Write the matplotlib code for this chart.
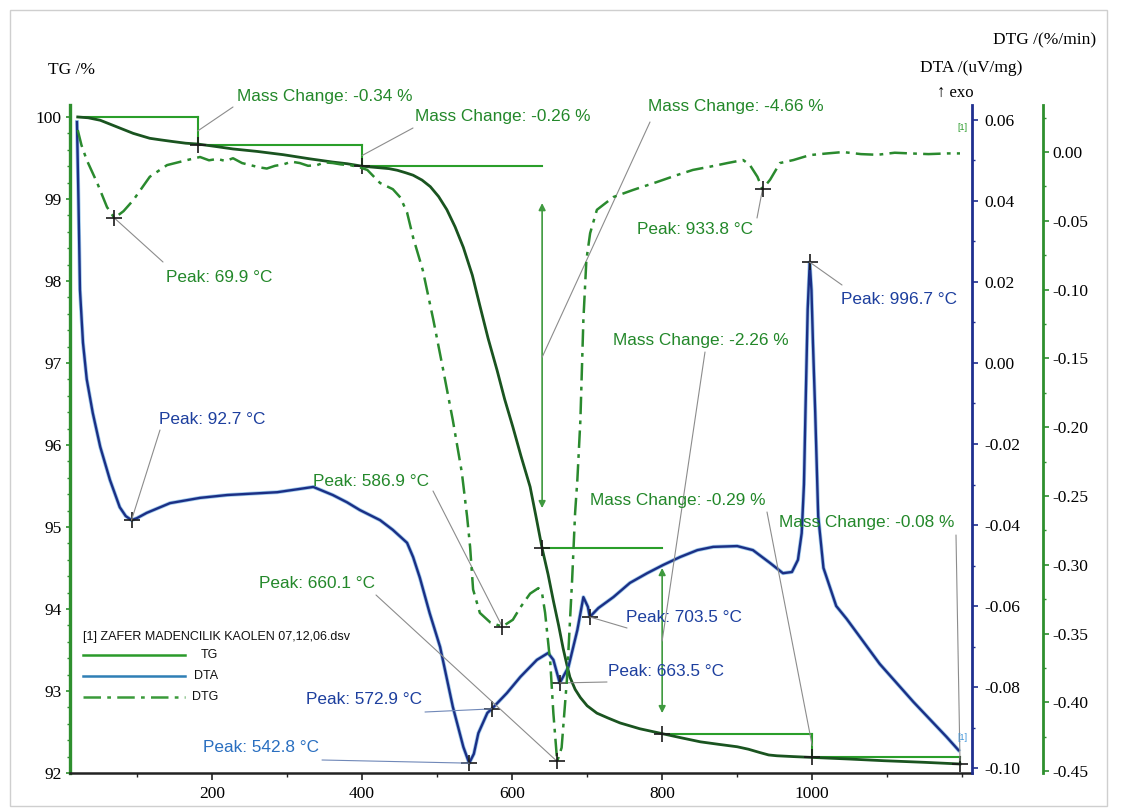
import numpy as np
import matplotlib
matplotlib.use("Agg")
import matplotlib.pyplot as plt
import matplotlib.font_manager as fm
from matplotlib.lines import Line2D
from matplotlib.patches import Rectangle
from matplotlib.ticker import FixedLocator, MultipleLocator, FuncFormatter

# ---------------- data ----------------
tg_T = [21, 35, 51, 62, 73, 84, 95, 106, 117, 132, 148, 165, 181, 205, 228, 260, 295, 330, 361,
        380, 400, 412, 424, 436, 447, 458, 468, 480, 491, 502, 513, 524, 535, 547, 557, 568,
        580, 590, 601, 612, 624, 632, 640, 648, 655, 662, 668, 673, 677, 684, 691, 700, 713,
        728, 744, 770, 800, 825, 851, 875, 900, 915, 930, 942, 953, 975, 1000, 1050, 1095,
        1150, 1197]
tg_v = [100.00, 99.99, 99.96, 99.92, 99.88, 99.84, 99.80, 99.77, 99.74, 99.72, 99.70, 99.68,
        99.67, 99.64, 99.61, 99.58, 99.54, 99.49, 99.45, 99.43, 99.40, 99.39, 99.38, 99.37,
        99.35, 99.32, 99.29, 99.23, 99.15, 99.03, 98.87, 98.66, 98.41, 98.07, 97.70, 97.30,
        96.91, 96.56, 96.22, 95.86, 95.49, 95.12, 94.74, 94.42, 94.10, 93.80, 93.52, 93.32,
        93.17, 93.02, 92.92, 92.82, 92.73, 92.67, 92.61, 92.54, 92.48, 92.43, 92.38, 92.35,
        92.32, 92.29, 92.25, 92.22, 92.21, 92.20, 92.19, 92.17, 92.15, 92.13, 92.11]

dta_T = [20, 22, 24, 28, 33, 41, 51, 64, 77, 85, 92.7, 100, 113, 144, 184, 220, 287, 335, 361,
         380, 397, 424, 441, 460, 468, 477, 490, 504, 521, 535, 542.8, 549, 555, 567, 572.9,
         593, 611, 633, 648, 655, 663.5, 675, 687, 695, 701, 703.5, 715, 735, 757, 780, 801,
         824, 847, 868, 900, 921, 944, 961, 973, 981, 986, 989, 991, 994, 996.7, 999, 1001,
         1004, 1008, 1015, 1032, 1046, 1090, 1135, 1179, 1195]
dta_v = [0.0595, 0.040, 0.018, 0.005, -0.004, -0.0123, -0.0207, -0.0289, -0.0356, -0.0378,
         -0.0388, -0.0383, -0.0370, -0.0346, -0.0333, -0.0326, -0.0319, -0.0306, -0.0326,
         -0.0344, -0.0363, -0.0388, -0.0412, -0.0444, -0.0479, -0.0530, -0.0617, -0.0701,
         -0.0849, -0.0948, -0.0988, -0.0965, -0.0914, -0.0864, -0.0854, -0.0815, -0.0775,
         -0.0733, -0.0716, -0.0733, -0.0790, -0.0751, -0.0659, -0.0578, -0.0602, -0.0627,
         -0.0605, -0.0578, -0.0543, -0.0519, -0.0499, -0.0479, -0.0462, -0.0454, -0.0452,
         -0.0462, -0.0494, -0.0519, -0.0516, -0.0486, -0.0420, -0.0300, -0.0121, 0.0133,
         0.0249, 0.0180, 0.0050, -0.0121, -0.0378, -0.0506, -0.0600, -0.0632, -0.0743,
         -0.0837, -0.0923, -0.0956]

dtg_T = [21, 26, 33, 47, 60, 69.9, 82, 95, 117, 140, 167, 184, 196, 207, 218, 228, 240, 251,
         262, 273, 284, 295, 306, 317, 328, 340, 350, 361, 372, 384, 396, 407, 424, 441, 451,
         460, 468, 481, 495, 508, 521, 533, 540, 544, 548, 557, 571, 586.9, 601, 611, 624, 635,
         640, 644, 651, 655, 660.1, 666, 673, 680, 684, 687, 691, 695, 699, 704, 713, 735, 761,
         793, 820, 841, 865, 887, 908, 917, 927, 933.8, 944, 957, 975, 997, 1020, 1041, 1065,
         1087, 1110, 1131, 1155, 1180, 1197]
dtg_v = [0.016, 0.005, -0.0058, -0.0225, -0.040, -0.048, -0.043, -0.035, -0.018, -0.0095,
         -0.0058, -0.0036, -0.0060, -0.0050, -0.0065, -0.0045, -0.0080, -0.0095, -0.0110,
         -0.0120, -0.0100, -0.0090, -0.0070, -0.0080, -0.0100, -0.0095, -0.0075, -0.0080,
         -0.0090, -0.0095, -0.0110, -0.013, -0.0225, -0.027, -0.033, -0.044, -0.062, -0.086,
         -0.122, -0.158, -0.195, -0.233, -0.265, -0.287, -0.318, -0.335, -0.342, -0.345,
         -0.340, -0.331, -0.321, -0.317, -0.321, -0.335, -0.372, -0.408, -0.443, -0.433,
         -0.384, -0.311, -0.262, -0.238, -0.195, -0.122, -0.0785, -0.059, -0.042, -0.0327,
         -0.0276, -0.0218, -0.0167, -0.013, -0.0105, -0.008, -0.0058, -0.0095, -0.018, -0.027,
         -0.020, -0.008, -0.0058, -0.0022, -0.0010, 0.000, -0.0015, -0.002, -0.0005, -0.001,
         -0.0015, -0.001, -0.001]

# mass-change steps: (start T, end T, start level, end level, label)
mc_T0 = [21, 181, 400, 640, 800, 1000]
mc_T1 = [181, 400, 640, 800, 1000, 1197]
mc_L0 = [100.00, 99.66, 99.40, 94.74, 92.48, 92.19]
mc_L1 = [99.66, 99.40, 94.74, 92.48, 92.19, 92.11]
mc_labels = ["Mass Change: -0.34 %", "Mass Change: -0.26 %", "Mass Change: -4.66 %",
             "Mass Change: -2.26 %", "Mass Change: -0.29 %", "Mass Change: -0.08 %"]
# double arrows drawn for the large steps: (T, top, bottom)
arr_T = [640, 800]
arr_top = [98.95, 94.50]
arr_bot = [95.23, 92.73]

dtg_peak_T = [69.9, 586.9, 660.1, 933.8]
dtg_peak_v = [-0.048, -0.345, -0.443, -0.027]
dta_peak_T = [92.7, 542.8, 572.9, 663.5, 703.5, 996.7]
dta_peak_v = [-0.0388, -0.0988, -0.0854, -0.0790, -0.0627, 0.0249]

tg_ticks = [92, 93, 94, 95, 96, 97, 98, 99, 100]
dta_ticks = [-0.10, -0.08, -0.06, -0.04, -0.02, 0.00, 0.02, 0.04, 0.06]
dtg_ticks = [-0.45, -0.40, -0.35, -0.30, -0.25, -0.20, -0.15, -0.10, -0.05, 0.00]
x_ticks = [200, 400, 600, 800, 1000]

# ---------------- styling ----------------
W, H = 1122, 809
def fx(px): return px / W
def fy(py): return 1 - py / H

names = {f.name for f in fm.fontManager.ttflist}
SANS = "Liberation Sans Narrow" if "Liberation Sans Narrow" in names else "Liberation Sans"
ANN_SIZE = 14.5 if SANS == "Liberation Sans Narrow" else 12.4
LEG_SIZE = 10.5 if SANS == "Liberation Sans Narrow" else 9.0
SERIF = ["Liberation Serif", "DejaVu Serif"]

C_TG = "#1a5420"
C_MC = "#2a9e2a"
C_DTG = "#2a8a2e"
C_DTA = "#1b2f85"
C_DTA_L = "#3d93d8"
C_GTXT = "#23882a"
C_BTXT = "#1d3f9e"
C_LEAD = "#8c8c8c"

fig = plt.figure(figsize=(W / 100, H / 100), dpi=100)
fig.add_artist(Rectangle((fx(10), fy(806)), fx(1107) - fx(10), fy(10) - fy(806),
                         transform=fig.transFigure, fill=False, ec="#cfcfcf", lw=1.0))

ax = fig.add_axes([fx(70), fy(773), fx(972) - fx(70), fy(105) - fy(773)])
ax2 = ax.twinx()
ax3 = ax.twinx()
for a in (ax2, ax3):
    a.patch.set_visible(False)

ax.set_xlim(10.7, 1213)
ax.set_ylim(92.0, 100.146)
ax2.set_ylim(-0.10123, 0.0637)
ax3.set_ylim(-0.4514, 0.0342)

for a in (ax, ax2, ax3):
    a.spines["top"].set_visible(False)
ax.spines["right"].set_visible(False)
ax2.spines["left"].set_visible(False)
ax3.spines["left"].set_visible(False)
ax2.spines["bottom"].set_visible(False)
ax3.spines["bottom"].set_visible(False)
ax.spines["left"].set_color("#2e8f2e")
ax.spines["left"].set_linewidth(2.4)
ax.spines["bottom"].set_color("#222222")
ax.spines["bottom"].set_linewidth(1.8)
ax2.spines["right"].set_color("#1f2f8f")
ax2.spines["right"].set_linewidth(2.0)
ax3.spines["right"].set_position(("outward", 51))
ax3.spines["right"].set_color("#2e8f2e")
ax3.spines["right"].set_linewidth(2.0)

fmt2 = FuncFormatter(lambda v, p: ("%.2f" % v).replace("\u2212", "-") if abs(v) > 1e-9 else "0.00")

ax.xaxis.set_major_locator(FixedLocator(x_ticks))
ax.xaxis.set_minor_locator(MultipleLocator(100))
ax.yaxis.set_major_locator(FixedLocator(tg_ticks))
ax.yaxis.set_minor_locator(MultipleLocator(0.2))
ax.yaxis.set_major_formatter(FuncFormatter(lambda v, p: "%d" % round(v)))
ax2.yaxis.set_major_locator(FixedLocator(dta_ticks))
ax2.yaxis.set_minor_locator(MultipleLocator(0.01))
ax2.yaxis.set_major_formatter(fmt2)
ax3.yaxis.set_major_locator(FixedLocator(dtg_ticks))
ax3.yaxis.set_minor_locator(MultipleLocator(0.025))
ax3.yaxis.set_major_formatter(fmt2)

ax.tick_params(axis="x", which="major", direction="out", length=5, width=1.2, color="#222222",
               pad=4, labelsize=12.5)
ax.tick_params(axis="x", which="minor", direction="out", length=3, width=1.0, color="#222222")
ax.tick_params(axis="y", which="major", direction="out", length=3, width=1.2, color="#2e8f2e",
               pad=3, labelsize=12.5)
ax.tick_params(axis="y", which="minor", direction="out", length=2, width=1.0, color="#2e8f2e")
ax2.tick_params(axis="y", which="major", direction="out", length=4, width=1.2, color="#1f2f8f",
                pad=5, labelsize=12.5)
ax2.tick_params(axis="y", which="minor", direction="out", length=2.5, width=1.0, color="#1f2f8f")
ax3.tick_params(axis="y", which="major", direction="out", length=4, width=1.2, color="#2e8f2e",
                pad=3, labelsize=12.5)
ax3.tick_params(axis="y", which="minor", direction="out", length=2.5, width=1.0, color="#2e8f2e")
for a in (ax, ax2, ax3):
    for lab in a.get_xticklabels() + a.get_yticklabels():
        lab.set_family(SERIF)

# ---------------- curves ----------------
ax.plot(tg_T, tg_v, color=C_TG, lw=2.0, zorder=5, solid_joinstyle="round")
ax2.plot(dta_T, dta_v, color=C_DTA_L, lw=2.8, alpha=0.5, zorder=4, solid_joinstyle="round")
ax2.plot(dta_T, dta_v, color=C_DTA, lw=1.7, zorder=5, solid_joinstyle="round")
ax3.plot(dtg_T, dtg_v, color=C_DTG, lw=1.8, linestyle=(0, (7, 2.5, 1.5, 2.5)), zorder=5)

# mass-change steps
for t0, t1, l0, l1 in zip(mc_T0, mc_T1, mc_L0, mc_L1):
    ax.plot([t0, t1], [l0, l0], color=C_MC, lw=1.5, zorder=3)
for t1, l0, l1 in zip(mc_T1, mc_L0, mc_L1):
    if t1 in arr_T:
        continue
    ax.plot([t1, t1], [l0, l1], color=C_MC, lw=1.5, zorder=3)
for t, a0, a1 in zip(arr_T, arr_top, arr_bot):
    ax.annotate("", xy=(t, a0), xytext=(t, a1),
                arrowprops=dict(arrowstyle="<|-|>", color="#3f9a3f", lw=1.2,
                                mutation_scale=10, shrinkA=0, shrinkB=0), zorder=3)
ax.plot(mc_T1, mc_L1, linestyle="none", marker="+", ms=11, mew=1.2, color="#1a1a1a", zorder=6)
ax3.plot(dtg_peak_T, dtg_peak_v, linestyle="none", marker="+", ms=11, mew=1.2, color="#1a1a1a", zorder=6)
ax2.plot(dta_peak_T, dta_peak_v, linestyle="none", marker="+", ms=11, mew=1.2, color="#1a1a1a", zorder=6)

# ---------------- labels and leader lines ----------------
def label(s, x, y, color):
    fig.text(fx(x), fy(y), s, ha="left", va="center", color=color, family=SANS, fontsize=ANN_SIZE)

def leader(px, py, axis, T, v, color=C_LEAD):
    ax3.annotate("", xy=(T, v), xycoords=axis.transData, xytext=(fx(px), fy(py)),
                 textcoords="figure fraction", annotation_clip=False,
                 arrowprops=dict(arrowstyle="-", color=color, lw=0.8, shrinkA=0, shrinkB=0))

mc_text_pos = [(237, 97), (415, 116), (648, 106), (613, 340), (590, 500), (779, 522)]
mc_lead_start = [(233, 107), (413, 128), (650, 122), (705, 352), (767, 512), (956, 535)]
for s, (x, y), (sx, sy), t1, l0, l1 in zip(mc_labels, mc_text_pos, mc_lead_start, mc_T1, mc_L0, mc_L1):
    label(s, x, y, C_GTXT)
    leader(sx, sy, ax, t1, (l0 + l1) / 2)

dtg_text_pos = [(166, 278), (313, 482), (259, 584), (637, 229)]
dtg_lead_start = [(163, 262), (433, 491), (376, 595), (757, 218)]
for T, v, (x, y), (sx, sy) in zip(dtg_peak_T, dtg_peak_v, dtg_text_pos, dtg_lead_start):
    label("Peak: %.1f \u00b0C" % T, x, y, C_GTXT)
    leader(sx, sy, ax3, T, v)

dta_text_pos = [(159, 419), (203, 748), (306, 700), (608, 671), (626, 618), (841, 300)]
dta_lead_start = [(160, 430), (322, 760), (425, 712), (607, 682), (627, 628), (842, 285)]
dta_text_col = [C_BTXT, "#2a6fc0", C_BTXT, C_BTXT, C_BTXT, C_BTXT]
for T, v, (x, y), (sx, sy), c in zip(dta_peak_T, dta_peak_v, dta_text_pos, dta_lead_start, dta_text_col):
    label("Peak: %.1f \u00b0C" % T, x, y, c)
    lc = "#7088b8" if T in (542.8, 572.9) else C_LEAD
    leader(sx, sy, ax2, T, v, lc)

# small curve tags
fig.text(fx(962), fy(127), "[1]", color="#2a9a2a", fontsize=6.5, ha="center", va="center", family=SANS)
fig.text(fx(962), fy(738), "[1]", color="#3d93d8", fontsize=6.5, ha="center", va="center", family=SANS)

# axis titles
fig.text(fx(48), fy(70), "TG /%", family=SERIF, fontsize=12.5, ha="left", va="center")
fig.text(fx(993), fy(40), "DTG /(%/min)", family=SERIF, fontsize=12.5, ha="left", va="center")
fig.text(fx(920), fy(68), "DTA /(uV/mg)", family=SERIF, fontsize=12.5, ha="left", va="center")
fig.text(fx(937), fy(93), "\u2191 exo", family=SERIF, fontsize=12, ha="left", va="center")

# legend block
fig.text(fx(83), fy(637), "[1] ZAFER MADENCILIK KAOLEN 07,12,06.dsv", family=SANS,
         fontsize=LEG_SIZE, ha="left", va="center", color="#111111")
leg_names = ["TG", "DTA", "DTG"]
leg_y = [655, 676, 697]
leg_col = ["#2a9a2a", "#2f7fb5", "#3a9a3a"]
leg_ls = ["-", "-", (0, (7, 2.5, 1.5, 2.5))]
for n, yy, c, ls in zip(leg_names, leg_y, leg_col, leg_ls):
    fig.add_artist(Line2D([fx(83), fx(185)], [fy(yy), fy(yy)], transform=fig.transFigure,
                          color=c, lw=1.8, linestyle=ls))
    fig.text(fx(218), fy(yy), n, family=SANS, fontsize=LEG_SIZE, ha="right", va="center", color="#111111")

fig.savefig("out.png", dpi=100)
